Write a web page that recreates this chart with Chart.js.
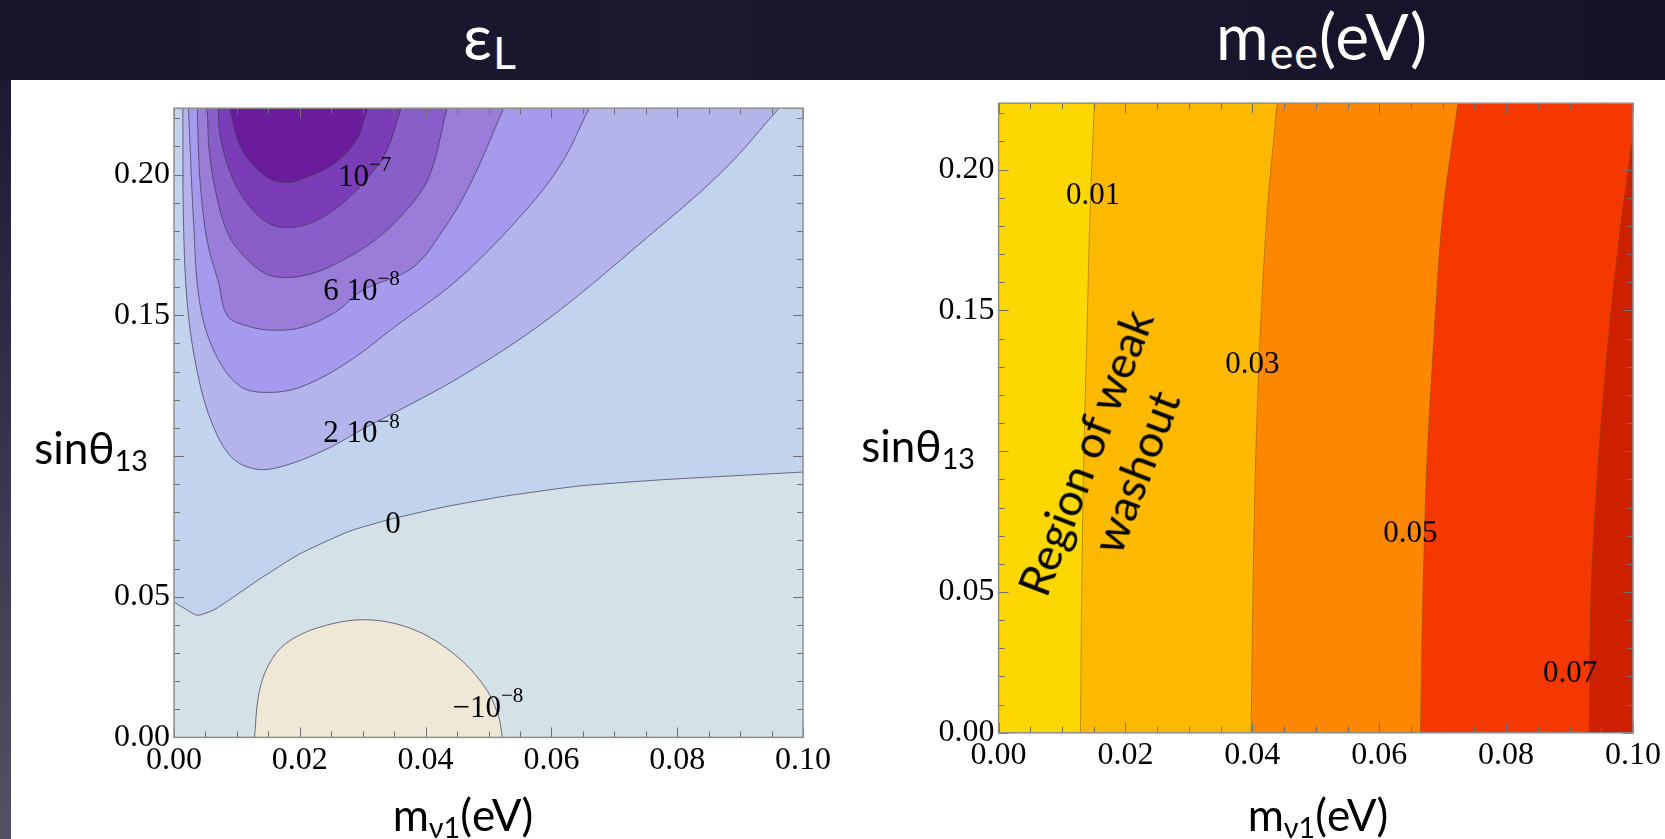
<!DOCTYPE html>
<html>
<head>
<meta charset="utf-8">
<script src="https://cdn.jsdelivr.net/npm/chart.js@4.4.1/dist/chart.umd.min.js"></script>
<style>
html, body { margin: 0; padding: 0; }
body { width: 1665px; height: 839px; overflow: hidden; position: relative;
  background: linear-gradient(90deg, #16142b, #1b1830 40%, #15132a); font-family: Lato, "Open Sans", sans-serif; }
#panel { position: absolute; left: 11px; top: 80px; width: 1654px; height: 759px; background: #fff; }
#strip { position: absolute; left: 0; top: 80px; width: 11px; height: 759px; background: linear-gradient(#1c1a32, #525168); }
canvas { position: absolute; }
#c1 { left: 0; top: 80px; }
#c2 { left: 840px; top: 80px; }
.t { position: absolute; white-space: nowrap; line-height: 1; color: #000; transform: translateX(-50%); }
.head { color: #fff; font-size: 64px; top: 4px; letter-spacing: 1px; }
.head sub { font-size: 0.7em; vertical-align: -0.2em; }
.ax { font-size: 44px; }
sub { font-size: 0.65em; vertical-align: -0.24em; line-height: 0; }
#note { position: absolute; left: 1110px; top: 462px; font-size: 45px; line-height: 54px; text-align: center;
  white-space: nowrap; transform: translate(-50%, -50%) rotate(-69deg); color: #000; }
</style>
</head>
<body>
<div id="panel"></div>
<div id="strip"></div>
<canvas id="c1" width="840" height="759"></canvas>
<canvas id="c2" width="825" height="759"></canvas>

<div class="t head" style="left:490px">ε<sub>L</sub></div>
<div class="t head" style="left:1322px">m<sub>ee</sub>(eV)</div>
<div class="t ax" style="left:91px; top:425px">sinθ<sub>13</sub></div>
<div class="t ax" style="left:918px; top:423px">sinθ<sub>13</sub></div>
<div class="t ax" style="left:463px; top:792px">m<sub>ν1</sub>(eV)</div>
<div class="t ax" style="left:1318px; top:792px">m<sub>ν1</sub>(eV)</div>
<div id="note">Region of weak<br>washout</div>

<script>
'use strict';
// axes: lightest neutrino mass (eV) and sin(theta13)
let xMax = 0.1;
let yMax = 0.2236;
let xTickLabels = [0, 0.02, 0.04, 0.06, 0.08, 0.1];
let yTickLabels = [0, 0.05, 0.15, 0.2];   // 0.10 sits under the axis title on the slide

// epsilon_L contour lines, points are [m_nu1, sin theta13]
let epsMinus1e8 = [[0.0128, 0], [0.0135, 0.0157], [0.0151, 0.026], [0.0178, 0.0334], [0.0232, 0.0392],
  [0.0305, 0.0418], [0.0379, 0.0385], [0.0445, 0.0297], [0.0492, 0.0186], [0.0515, 0.0083], [0.0522, 0]];
let eps0 = [[0, 0.0481], [0.0037, 0.0434], [0.0065, 0.0455], [0.0131, 0.0555], [0.0198, 0.065], [0.0278, 0.0732],
  [0.0345, 0.0776], [0.0432, 0.082], [0.0525, 0.0857], [0.0646, 0.0894], [0.0779, 0.0916], [0.1, 0.0943]];
let eps2e8 = [[0.0014, 0.2236], [0.0015, 0.1837], [0.0021, 0.1543], [0.0035, 0.1321], [0.0058, 0.113],
  [0.0091, 0.0997], [0.0131, 0.0953], [0.0178, 0.0967], [0.0245, 0.1027], [0.0298, 0.1093], [0.0452, 0.1277],
  [0.0593, 0.1484], [0.0753, 0.1778], [0.0873, 0.2014], [0.0962, 0.2236]];
let eps4e8 = [[0.0023, 0.2236], [0.0031, 0.1837], [0.0041, 0.1543], [0.0065, 0.1366], [0.0105, 0.1248],
  [0.0151, 0.1226], [0.0205, 0.1248], [0.0278, 0.1336], [0.0348, 0.1454], [0.0453, 0.1631], [0.0558, 0.187],
  [0.0616, 0.204], [0.066, 0.2236]];
let eps6e8 = [[0.0037, 0.2236], [0.004, 0.2025], [0.0047, 0.1848], [0.0056, 0.173], [0.007, 0.1623],
  [0.0085, 0.1498], [0.0118, 0.1461], [0.0158, 0.1447], [0.0205, 0.1458], [0.0258, 0.1513], [0.0298, 0.1587],
  [0.0378, 0.1667], [0.0424, 0.179], [0.0471, 0.1966], [0.0524, 0.2236]];
let eps8e8 = [[0.0053, 0.2236], [0.0056, 0.2084], [0.0067, 0.1931], [0.0086, 0.1789], [0.0113, 0.1706],
  [0.0146, 0.1647], [0.0172, 0.1635], [0.0206, 0.1641], [0.0245, 0.167], [0.0311, 0.1753], [0.0364, 0.186],
  [0.0405, 0.199], [0.0434, 0.2236]];
let eps1e7 = [[0.007, 0.2236], [0.0073, 0.2144], [0.0083, 0.2049], [0.01, 0.1954], [0.0126, 0.1872],
  [0.0153, 0.1824], [0.018, 0.1812], [0.0212, 0.1824], [0.0245, 0.186], [0.0278, 0.1919], [0.0311, 0.1996],
  [0.0338, 0.2084], [0.0361, 0.2236]];
let eps12e8 = [[0.0089, 0.2236], [0.0097, 0.2155], [0.0109, 0.2084], [0.013, 0.2025], [0.0153, 0.1984],
  [0.0183, 0.1972], [0.0212, 0.1992], [0.0245, 0.2025], [0.0272, 0.2073], [0.0292, 0.2132], [0.0308, 0.2236]];

let epsLabelBase = ['10', '6 10', '2 10', '0', '\u221210'];
let epsLabelPow = ['\u22127', '\u22128', '\u22128', '', '\u22128'];
let epsLabelX = [0.0303, 0.0298, 0.0298, 0.0348, 0.0499];
let epsLabelY = [0.199, 0.1583, 0.1078, 0.0754, 0.0101];

// m_ee contour lines, [m_nu1, sin theta13]
let mee001 = [[0.0129, 0], [0.0131, 0.0511], [0.0134, 0.0954], [0.0139, 0.1397], [0.0144, 0.184], [0.0151, 0.2236]];
let mee003 = [[0.0398, 0], [0.0401, 0.0511], [0.0405, 0.0954], [0.0412, 0.1397], [0.0423, 0.184], [0.0439, 0.2236]];
let mee005 = [[0.0665, 0], [0.0669, 0.0511], [0.0675, 0.0954], [0.0686, 0.1397], [0.07, 0.184], [0.0724, 0.2236]];
let mee007 = [[0.0931, 0], [0.0934, 0.0511], [0.0945, 0.0954], [0.0961, 0.1397], [0.098, 0.1790], [0.1, 0.2125]];

let meeLabelText = ['0.01', '0.03', '0.05', '0.07'];
let meeLabelX = [0.0149, 0.04, 0.0649, 0.0901];
let meeLabelY = [0.1906, 0.1305, 0.0706, 0.0208];

let serif = '"Liberation Serif", "Times New Roman", serif';

function isMult(v, s) {
    return Math.abs(v / s - Math.round(v / s)) < 1e-6;
}

function stepsTo(max, step) {
    let out = [];
    for (let i = 0; i * step <= max + 1e-9; i++) {
        out.push({ value: +(i * step).toFixed(4) });
    }
    return out;
}

// frame, inward ticks and contour labels, all placed through the chart scales
let framePlugin = {
    id: 'frameTicks',
    beforeDatasetsDraw(chart, args, opts) {
        let a = chart.chartArea;
        let ctx = chart.ctx;
        ctx.save();
        ctx.fillStyle = opts.bg;
        ctx.fillRect(a.left, a.top, a.right - a.left, a.bottom - a.top);
        ctx.restore();
    },
    afterDatasetsDraw(chart, args, opts) {
        let a = chart.chartArea;
        let ctx = chart.ctx;
        let xs = chart.scales.x;
        let ys = chart.scales.y;
        ctx.save();
        ctx.fillStyle = '#000';
        ctx.textBaseline = 'middle';
        for (let i = 0; i < opts.labels.length; i++) {
            let lb = opts.labels[i];
            let px = xs.getPixelForValue(lb.x);
            let py = ys.getPixelForValue(lb.y);
            ctx.font = '31px ' + serif;
            let wb = ctx.measureText(lb.base).width;
            ctx.font = '21px ' + serif;
            let ws = lb.pow ? ctx.measureText(lb.pow).width : 0;
            let sx = px - (wb + ws) / 2;
            ctx.font = '31px ' + serif;
            ctx.textAlign = 'left';
            ctx.fillText(lb.base, sx, py);
            if (lb.pow) {
                ctx.font = '21px ' + serif;
                ctx.fillText(lb.pow, sx + wb, py - 12);
            }
        }
        ctx.strokeStyle = '#6f6f6f';
        ctx.lineWidth = 1;
        ctx.beginPath();
        xs.ticks.forEach(t => {
            if (!isMult(t.value, 0.005)) return;
            let p = Math.round(xs.getPixelForValue(t.value)) + 0.5;
            let len = isMult(t.value, 0.02) ? 10 : 6;
            ctx.moveTo(p, a.bottom); ctx.lineTo(p, a.bottom - len);
            ctx.moveTo(p, a.top); ctx.lineTo(p, a.top + len);
        });
        ys.ticks.forEach(t => {
            if (!isMult(t.value, 0.01)) return;
            let p = Math.round(ys.getPixelForValue(t.value)) + 0.5;
            let len = isMult(t.value, 0.05) ? 10 : 6;
            ctx.moveTo(a.left, p); ctx.lineTo(a.left + len, p);
            ctx.moveTo(a.right, p); ctx.lineTo(a.right - len, p);
        });
        ctx.stroke();
        ctx.strokeStyle = '#8e8e8e';
        ctx.lineWidth = 1.5;
        ctx.strokeRect(a.left, a.top, a.right - a.left, a.bottom - a.top);
        ctx.restore();
    }
};

function axisSet(yWidth, xHeight, topGap, rightGap) {
    let tickFont = { family: serif, size: 32 };
    return {
        x: {
            type: 'linear', position: 'bottom', min: 0, max: xMax,
            afterBuildTicks: s => { s.ticks = stepsTo(xMax, 0.005); },
            afterFit: s => { s.height = xHeight; },
            grid: { display: false, drawTicks: false }, border: { display: false },
            ticks: {
                autoSkip: false, maxRotation: 0, padding: 4, color: '#000', font: tickFont,
                callback: v => xTickLabels.some(l => Math.abs(l - v) < 1e-9) ? v.toFixed(2) : ''
            }
        },
        y: {
            type: 'linear', position: 'left', min: 0, max: yMax,
            afterBuildTicks: s => { s.ticks = stepsTo(yMax, 0.01); },
            afterFit: s => { s.width = yWidth; },
            grid: { display: false, drawTicks: false }, border: { display: false },
            ticks: {
                autoSkip: false, padding: 4, color: '#000', font: tickFont,
                callback: v => yTickLabels.some(l => Math.abs(l - v) < 1e-9) ? v.toFixed(2) : ''
            }
        },
        xTop: {
            type: 'linear', position: 'top', min: 0, max: xMax,
            afterFit: s => { s.height = topGap; },
            grid: { display: false, drawTicks: false }, border: { display: false }, ticks: { display: false }
        },
        yRight: {
            type: 'linear', position: 'right', min: 0, max: yMax,
            afterFit: s => { s.width = rightGap; },
            grid: { display: false, drawTicks: false }, border: { display: false }, ticks: { display: false }
        }
    };
}

function toPoints(arr) {
    return arr.map(p => ({ x: p[0], y: p[1] }));
}

// left panel: epsilon_L
let epsLevels = [
    { line: epsMinus1e8, color: '#F0E8D6', fill: { value: 0 }, bend: 0.35 },
    { line: eps0, color: '#C2D3EE', fill: { value: yMax }, bend: 0.15 },
    { line: eps2e8, color: '#B4B3EC', fill: 'shape', bend: 0.35 },
    { line: eps4e8, color: '#A69AEF', fill: 'shape', bend: 0.35 },
    { line: eps6e8, color: '#9A7DD9', fill: 'shape', bend: 0.35 },
    { line: eps8e8, color: '#8A5EC9', fill: 'shape', bend: 0.35 },
    { line: eps1e7, color: '#7A3DB7', fill: 'shape', bend: 0.35 },
    { line: eps12e8, color: '#6A1C9D', fill: 'shape', bend: 0.35 }
];
let epsSets = epsLevels.map((lv, i) => ({
    data: toPoints(lv.line),
    backgroundColor: lv.color,
    borderColor: 'rgba(55,55,85,0.7)',
    borderWidth: 1,
    fill: lv.fill,
    pointRadius: 0,
    tension: lv.bend,
    order: epsLevels.length - i
}));
let epsLabels = epsLabelBase.map((b, i) => ({ base: b, pow: epsLabelPow[i], x: epsLabelX[i], y: epsLabelY[i] }));

new Chart(document.getElementById('c1'), {
    type: 'line',
    data: { datasets: epsSets },
    options: {
        responsive: false, animation: false, events: [],
        layout: { padding: 0 },
        plugins: { legend: { display: false }, tooltip: { enabled: false },
            frameTicks: { bg: '#D4E1E6', labels: epsLabels } },
        scales: axisSet(174, 101.6, 28.2, 37)
    },
    plugins: [framePlugin]
});

// right panel: m_ee, lines run up the page so the index axis is y
let meeLevels = [
    { line: mee001, color: '#FDB900' },
    { line: mee003, color: '#FD8700' },
    { line: mee005, color: '#F43800' },
    { line: mee007, color: '#CC2000' }
];
let meeSets = meeLevels.map((lv, i) => ({
    data: toPoints(lv.line),
    backgroundColor: lv.color,
    borderColor: 'rgba(120,70,0,0.45)',
    borderWidth: 1,
    fill: { value: xMax },
    pointRadius: 0,
    tension: 0.3,
    order: meeLevels.length - i
}));
let meeLabels = meeLabelText.map((t, i) => ({ base: t, pow: '', x: meeLabelX[i], y: meeLabelY[i] }));

new Chart(document.getElementById('c2'), {
    type: 'line',
    data: { datasets: meeSets },
    options: {
        indexAxis: 'y',
        responsive: false, animation: false, events: [],
        layout: { padding: 0 },
        plugins: { legend: { display: false }, tooltip: { enabled: false },
            frameTicks: { bg: '#FDD700', labels: meeLabels } },
        scales: axisSet(158.6, 106.2, 23.1, 32)
    },
    plugins: [framePlugin]
});
</script>
</body>
</html>
